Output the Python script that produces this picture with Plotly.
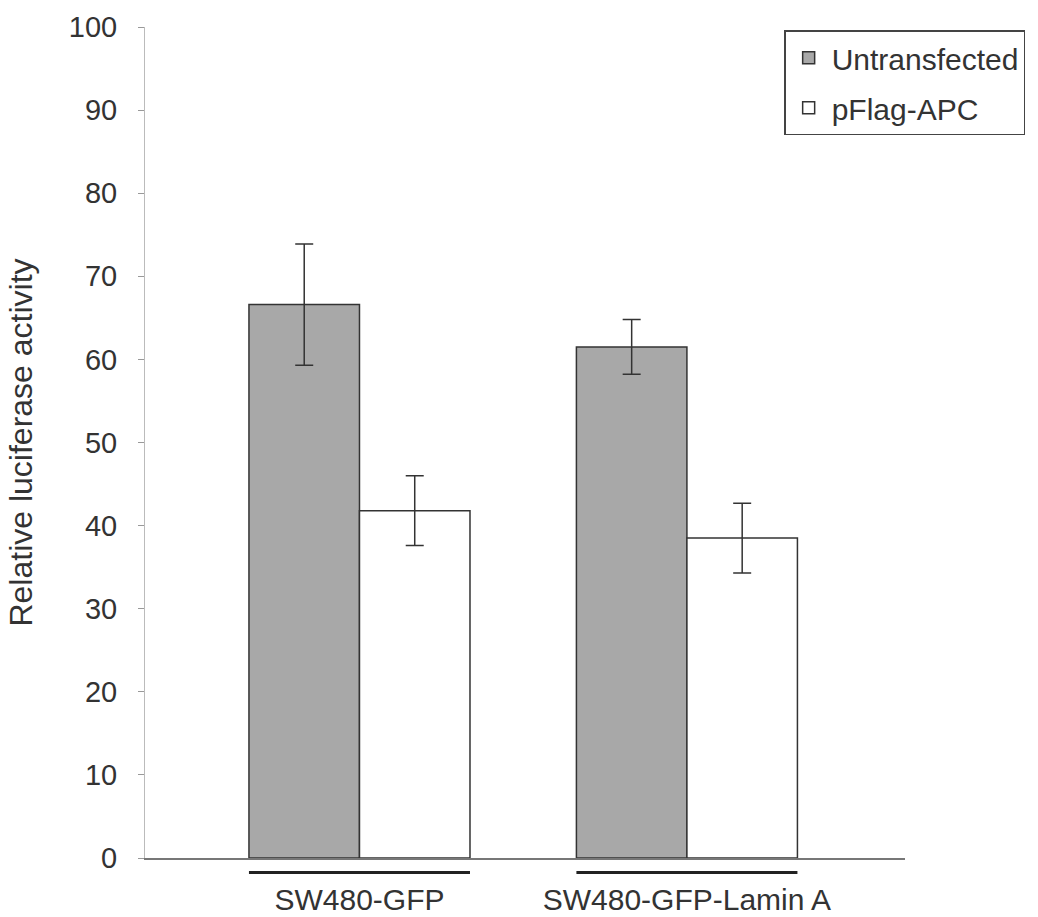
import plotly.graph_objects as go

# Relative luciferase activity per cell line, with and without pFlag-APC
cell_lines = ["SW480-GFP", "SW480-GFP-Lamin A"]
untransfected = [66.6, 61.5]
untransfected_err = [7.3, 3.3]
pflag_apc = [41.8, 38.5]
pflag_apc_err = [4.2, 4.2]
y_ticks = [0, 10, 20, 30, 40, 50, 60, 70, 80, 90, 100]

FONT = "Liberation Sans, Arial, sans-serif"
TEXT = "#333333"
EDGE = "#333333"

fig = go.Figure()
fig.add_trace(go.Bar(
    name="Untransfected", x=cell_lines, y=untransfected,
    marker=dict(color="#a8a8a8", line=dict(color=EDGE, width=1.5)),
    error_y=dict(type="data", array=untransfected_err, color=EDGE, thickness=1.5, width=9),
    legendgroup="a",
))
fig.add_trace(go.Bar(
    name="pFlag-APC", x=cell_lines, y=pflag_apc,
    marker=dict(color="#ffffff", line=dict(color=EDGE, width=1.5)),
    error_y=dict(type="data", array=pflag_apc_err, color=EDGE, thickness=1.5, width=9),
    legendgroup="b",
))

group_width = 0.675
# a dark rule under each group of bars
for i, _ in enumerate(cell_lines):
    fig.add_shape(type="line", xref="x", yref="paper",
                  x0=i - group_width / 2, x1=i + group_width / 2,
                  y0=-0.0175, y1=-0.0175,
                  line=dict(color="#222222", width=3))

fig.update_layout(
    width=1038, height=917,
    margin=dict(l=145, r=133, t=27, b=59),
    paper_bgcolor="white", plot_bgcolor="white",
    barmode="group", bargap=1 - group_width, bargroupgap=0,
    font=dict(family=FONT, color=TEXT, size=28),
    showlegend=True,
    legend=dict(
        x=0.841, y=0.996, xanchor="left", yanchor="top",
        bgcolor="white", bordercolor="#444444", borderwidth=1.5,
        font=dict(size=30, color=TEXT), tracegroupgap=8,
        traceorder="grouped", itemwidth=36,
    ),
    xaxis=dict(
        type="category", range=[-0.655, 1.666], automargin=False,
        showline=True, linecolor="#777777", linewidth=1.5,
        ticks="", showgrid=False, zeroline=False,
        tickfont=dict(size=30, color=TEXT), ticklabelstandoff=14,
    ),
    yaxis=dict(
        range=[0, 100], tickvals=y_ticks, automargin=False,
        showline=True, linecolor="#bbbbbb", linewidth=1,
        ticks="outside", ticklen=6, tickcolor="#999999",
        showgrid=False, zeroline=False,
        tickfont=dict(size=29, color=TEXT), ticklabelstandoff=15,
        title=dict(text="Relative luciferase activity", font=dict(size=32, color=TEXT), standoff=26),
    ),
)

fig.write_html("out.html")
